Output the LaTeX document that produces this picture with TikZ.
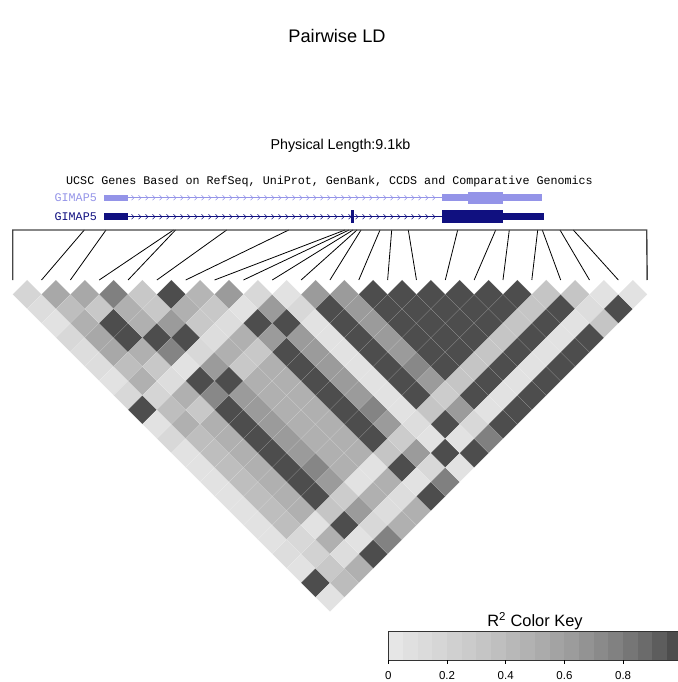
\documentclass[tikz,border=0pt]{standalone}
\usepackage{fontspec}
\setmainfont{Liberation Sans}
\newfontfamily\monof{Liberation Mono}
\definecolor{genelight}{RGB}{148,148,232}
\definecolor{genedark}{RGB}{16,16,128}
\definecolor{bracketgray}{RGB}{70,70,70}
% group of each SNP
\newcommand\getgrp[1]{\ifcase#1\or B\or S\or C\or A\or D\or C\or C\or A\or D\or B\or A\or D\or A\or A\or A\or A\or A\or A\or A\or T\or A\or B\or A\fi}
\newcommand\setpv[3]{\expandafter\def\csname pv@#1#2\endcsname{#3}\expandafter\def\csname pv@#2#1\endcsname{#3}}
\newcommand\setov[3]{\expandafter\def\csname ov@#1@#2\endcsname{#3}}
\newcommand\getcellval[2]{%
  \ifcsname ov@#1@#2\endcsname\edef\cellgv{\csname ov@#1@#2\endcsname}%
  \else\edef\cellgv{\csname pv@\getgrp{#1}\getgrp{#2}\endcsname}\fi}
\setpv{A}{A}{77}\setpv{B}{B}{77}\setpv{C}{C}{77}\setpv{D}{D}{77}
\setpv{A}{B}{226}\setpv{A}{C}{176}\setpv{A}{D}{155}\setpv{A}{S}{190}\setpv{A}{T}{197}
\setpv{B}{C}{221}\setpv{B}{D}{216}\setpv{B}{S}{213}\setpv{B}{T}{221}
\setpv{C}{D}{200}\setpv{C}{S}{168}\setpv{C}{T}{226}
\setpv{D}{S}{176}\setpv{D}{T}{204}\setpv{S}{T}{216}
\setov{3}{4}{168}\setov{7}{8}{181}
\setov{4}{5}{128}\setov{4}{9}{132}\setov{4}{12}{136}
\setov{5}{18}{134}\setov{9}{18}{132}\setov{12}{18}{136}
\setov{5}{23}{130}\setov{9}{23}{128}\setov{12}{23}{128}
\setov{2}{23}{188}\setov{2}{22}{200}\setov{2}{21}{210}
\tikzset{
  snpline/.style={black, line width=0.8pt},
  bracketline/.style={bracketgray, line width=1.4pt},
  ttl/.style={font=\fontsize{#1}{#1}\selectfont, inner sep=0pt},
  chev/.style={line width=0.55pt},
  seam/.style={white, opacity=0.18, line width=0.35pt},
}
\begin{document}
\begin{tikzpicture}[x=1pt,y=-1pt]
\useasboundingbox (0,0) rectangle (677,682);
% titles
\node[ttl=18.2] (title) at (337,36) {Pairwise LD};
\node[ttl=14.3] (phys) at (340.5,146) {Physical Length:9.1kb};
% gene track
\node[font=\monof\fontsize{11.7}{12}\selectfont, inner sep=0pt, anchor=base] (track) at (329.5,184) {UCSC Genes Based on RefSeq, UniProt, GenBank, CCDS and Comparative Genomics};
\node[font=\monof\fontsize{11.7}{12}\selectfont, inner sep=0pt, anchor=base east, text=genelight] (g1) at (97,201) {GIMAP5};
\node[font=\monof\fontsize{11.7}{12}\selectfont, inner sep=0pt, anchor=base east, text=genedark] (g2) at (97,220.5) {GIMAP5};
% light gene
\fill[genelight] (104.3,195.2) rectangle (128.3,200.6);
\draw[genelight, line width=1pt] (128.3,197.7) -- (441.7,197.7);
\foreach \x in {133,140,...,437}{\draw[genelight,chev] (\x-1.5,195.2) -- (\x+1,197.7) -- (\x-1.5,200.2);}
\fill[genelight] (441.7,194.4) rectangle (468,200.8);
\fill[genelight] (468,191.7) rectangle (503.3,204);
\fill[genelight] (503.3,194.4) rectangle (541.7,200.8);
% dark gene
\fill[genedark] (104.3,213.4) rectangle (128.3,219.6);
\draw[genedark, line width=1pt] (128.3,216.7) -- (441.7,216.7);
\foreach \x in {133,140,...,437}{\draw[genedark,chev] (\x-1.5,214.2) -- (\x+1,216.7) -- (\x-1.5,219.2);}
\fill[genedark] (350.8,210.3) rectangle (353.8,222.8);
\fill[genedark] (441.7,210.3) rectangle (503.3,222.8);
\fill[genedark] (503.3,213.4) rectangle (544,220);
% heatmap cells
\foreach \i in {1,...,22}{
  \pgfmathtruncatemacro\jstart{\i+1}
  \foreach \j in {\jstart,...,23}{
    \getcellval{\i}{\j}
    \definecolor{cc}{RGB}{\cellgv,\cellgv,\cellgv}
    \pgfmathsetmacro\cx{12.7+14.42*(\i+\j-2)}
    \pgfmathsetmacro\cy{294.4+14.42*(\j-\i-1)}
    \fill[cc] (\cx-14.42,\cy) -- (\cx,\cy-14.42) -- (\cx+14.42,\cy) -- (\cx,\cy+14.42) -- cycle;
    \draw[seam] (\cx-14.42,\cy) -- (\cx,\cy-14.42) -- (\cx+14.42,\cy) -- (\cx,\cy+14.42) -- cycle;
  }
}
% SNP connectors
\foreach \k/\g in {1/12.7,2/84.3,3/106,4/173.5,5/175.5,6/226.7,7/288.7,8/345,9/349,10/353,11/357,12/361,13/380,14/391.7,15/408.3,16/457.7,17/495.7,18/509.3,19/537.7,20/542.3,21/560,22/573.3,23/646.7}{
  \coordinate (t\k) at (\g,230);
  \coordinate (b\k) at ({12.7+28.84*(\k-1)},280);
}
\foreach \k in {2,...,22}{\draw[snpline] (t\k) -- (b\k);}
\draw[bracketline] (b1) -- (t1) -- (t23) -- (b23);
% colour key
\foreach \b/\g in {0/230,1/224,2/219,3/214,4/208,5/203,6/197,7/191,8/184,9/178,10/171,11/163,12/156,13/147,14/138,15/129,16/118,17/107,18/93,19/77}{
  \definecolor{kc}{RGB}{\g,\g,\g}
  \fill[kc] ({388.3+14.675*\b},631.7) rectangle ({388.3+14.675*(\b+1)},660);
}
\draw[black!80, line width=0.8pt] (681.8,631.7) -- (388.3,631.7) -- (388.3,660) -- (681.8,660);
\node[ttl=16.4] (keytitle) at (535,621.5) {R\textsuperscript{2} Color Key};
\foreach \v/\lab in {0/0,1/0.2,2/0.4,3/0.6,4/0.8}{
  \coordinate (tk\v) at ({388.3+58.7*\v},660);
  \draw[black, line width=0.8pt] (tk\v) -- ++(0,4);
  \node[ttl=11.5, anchor=base] (lab\v) at ({388.3+58.7*\v},679.5) {\lab};
}
\end{tikzpicture}
\end{document}
